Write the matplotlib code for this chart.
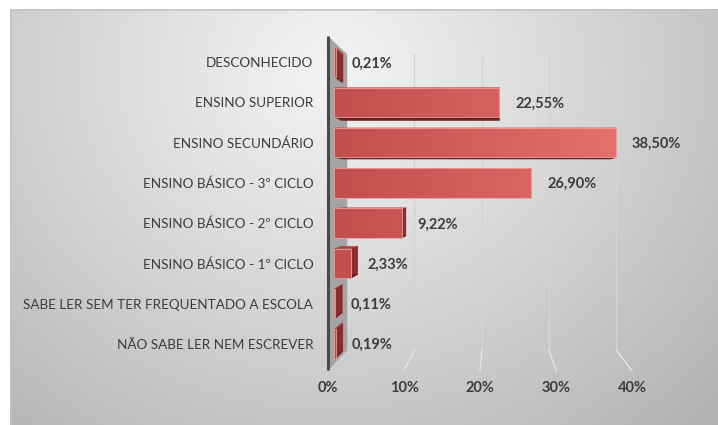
import numpy as np
import matplotlib
matplotlib.use('Agg')
import matplotlib.pyplot as plt
from matplotlib.patches import Polygon
from matplotlib.colors import LinearSegmentedColormap

categorias = ['DESCONHECIDO', 'ENSINO SUPERIOR', 'ENSINO SECUNDÁRIO',
              'ENSINO BÁSICO - 3º CICLO', 'ENSINO BÁSICO - 2º CICLO',
              'ENSINO BÁSICO - 1º CICLO', 'SABE LER SEM TER FREQUENTADO A ESCOLA',
              'NÃO SABE LER NEM ESCREVER']
percentagens = [0.21, 22.55, 38.50, 26.90, 9.22, 2.33, 0.11, 0.19]
rotulos = ['0,21%', '22,55%', '38,50%', '26,90%', '9,22%', '2,33%', '0,11%', '0,19%']
ticks = [0, 10, 20, 30, 40]
tick_labels = ['0%', '10%', '20%', '30%', '40%']

plt.rcParams['font.family'] = ['Lato', 'DejaVu Sans']
cinza = '#3c3c3c'

W, H = 718, 425
fig = plt.figure(figsize=(W / 100, H / 100), dpi=100, facecolor='white')

# fundo com gradiente (area do grafico)
bg = fig.add_axes([0, 0, 1, 1])
bg.axis('off')
yy, xx = np.mgrid[9:H:200j, 10:W:300j]
d = np.sqrt((xx - 330) ** 2 + ((yy - 70) * 1.1) ** 2) / 520
fundo = 243 - 62 * d ** 1.1
bg.imshow(np.dstack([fundo] * 3).clip(0, 255).astype(np.uint8),
          extent=(10, W, H, 9), aspect='auto', zorder=0)
bg.plot([10.5, 10.5, W], [H, 9.5, 9.5], color='#c4c4c4', lw=1.2, zorder=1)
bg.set_xlim(0, W)
bg.set_ylim(H, 0)

# eixo principal (escala das faces frontais das barras)
ax = fig.add_axes([334.2 / W, (H - 364) / H, 292.8 / W, 322 / H])
ax.patch.set_visible(False)
for s in ax.spines.values():
    s.set_visible(False)
n = len(categorias)
ylim = (n - 0.5, -0.5)

# perspectiva: ponto de fuga e profundidades
vx, vy = 21.97, 3.30
d_front, d_wall, d_bar = -0.0383, 0.081, 0.0457


def proj(x, y, dd):
    return (x + dd * (vx - x), y + dd * (vy - y))


# grelha na parede do fundo + linhas do chao
for t in ticks[1:]:
    topo = proj(t, -0.5, d_wall)
    base = proj(t, n - 0.5, d_wall)
    frente = proj(t, n - 0.5, d_front)
    ax.plot([topo[0], base[0]], [topo[1], base[1]], color='#d4d4d4', lw=1,
            zorder=1, clip_on=False)
    ax.plot([base[0], frente[0]], [base[1], frente[1]], color='#e6e6e6', lw=1,
            zorder=1, clip_on=False)

# rotulos do eixo x no plano da frente
for t, lab in zip(ticks, tick_labels):
    px, py = proj(t, n - 0.5, d_front)
    ax.annotate(lab, (px, n - 0.5), xytext=(0, -17), textcoords='offset points',
                ha='center', va='center', fontsize=10.5, fontweight='bold',
                color=cinza, annotation_clip=False)

# parede lateral esquerda
parede = [proj(0, -0.5, d_front), proj(0, n - 0.5, d_front),
          proj(0, n - 0.5, d_wall), proj(0, -0.5, d_wall)]
ax.add_patch(Polygon(parede, closed=True, fc='#a4a4a4', ec='none', zorder=2,
                     clip_on=False))
ax.plot([parede[0][0], parede[1][0]], [parede[0][1], parede[1][1]],
        color='#4a4a4a', lw=2.2, zorder=2.5, clip_on=False, solid_capstyle='butt')

# barras
h = 0.73
bars = ax.barh(range(n), percentagens, height=h, fc='none', ec='#e6a2a0',
               lw=0.6, zorder=5)
cmap = LinearSegmentedColormap.from_list('verm', ['#c24f4d', '#e5726f'])
grad = np.tile(np.linspace(0, 1, 256), (4, 1))
for i, (v, b) in enumerate(zip(percentagens, bars)):
    yt, yb = i - h / 2, i + h / 2
    lados = [
        ([(v, yt), (v, yb), proj(v, yb, d_bar), proj(v, yt, d_bar)], '#8a2c2b'),
        ([(0, yb), (v, yb), proj(v, yb, d_bar), proj(0, yb, d_bar)], '#6a2120'),
        ([(0, yt), (v, yt), proj(v, yt, d_bar), proj(0, yt, d_bar)], '#a94442'),
    ]
    for pts, c in lados:
        ax.add_patch(Polygon(pts, closed=True, fc=c, ec=c, lw=0.3, zorder=3,
                             clip_on=False))
    im = ax.imshow(grad, extent=(0, 40, ylim[0], ylim[1]), aspect='auto',
                   cmap=cmap, zorder=4, interpolation='bilinear')
    im.set_clip_path(b)
    ax.annotate(rotulos[i], (v, i), xytext=(11.5, -1), textcoords='offset points',
                ha='left', va='center', fontsize=10.5, fontweight='bold', color=cinza,
                zorder=6)

ax.set_yticks(range(n), categorias)
ax.set_xticks([])
ax.tick_params(axis='y', length=0, pad=15, labelsize=9.75, labelcolor=cinza)

ax.set_xlim(0, 40)
ax.set_ylim(*ylim)

fig.savefig('out.png', dpi=100, facecolor='white')
